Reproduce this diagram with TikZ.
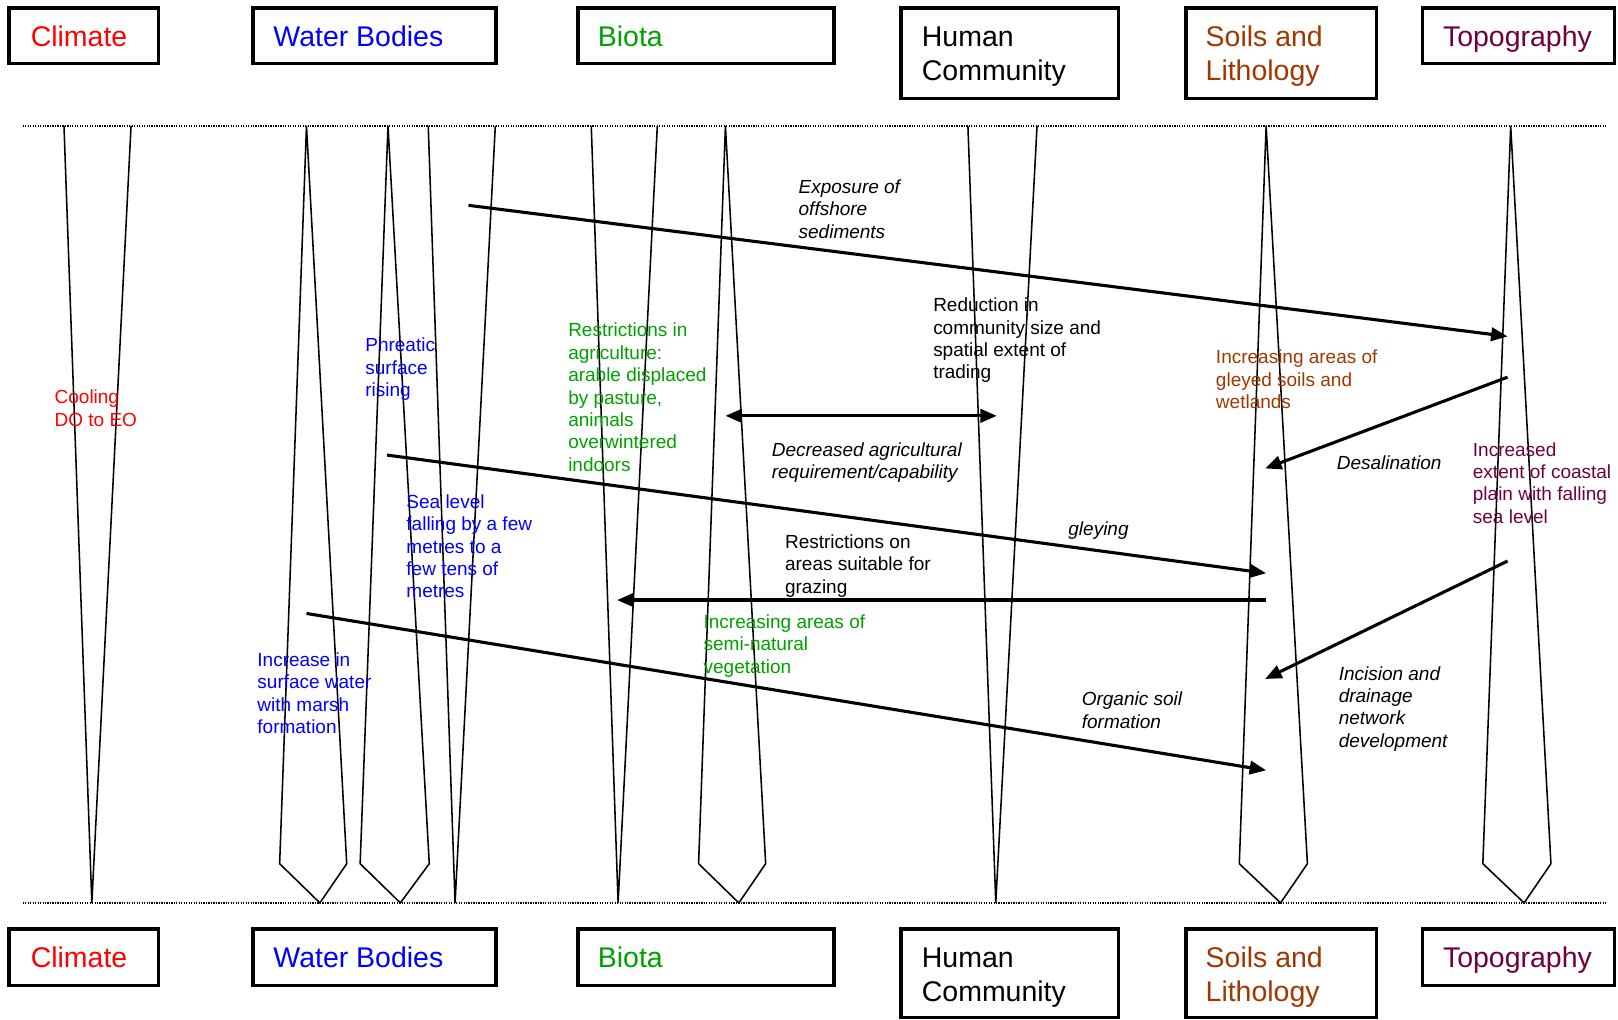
\documentclass[tikz,border=0pt]{standalone}
\usepackage{fontspec}
\setmainfont{Liberation Sans}
\usetikzlibrary{arrows.meta}
\definecolor{climc}{RGB}{255,0,0}
\definecolor{waterc}{RGB}{0,0,255}
\definecolor{biotac}{RGB}{0,160,0}
\definecolor{soilc}{RGB}{160,55,0}
\definecolor{topoc}{RGB}{110,0,60}
\begin{document}
\begin{tikzpicture}[x=0.5pt,y=-0.5pt,
  catbox/.style={draw, line width=1.8pt, anchor=north west, inner sep=0pt, outer sep=0pt},
  catlabel/.style={anchor=base west, inner sep=0pt, align=left, font=\fontsize{13.8}{16.5}\selectfont},
  note/.style={anchor=base west, inner sep=0pt, align=left, font=\fontsize{9.2}{10.85}\selectfont},
  inote/.style={anchor=base west, inner sep=0pt, align=left, font=\fontsize{9.2}{10.85}\selectfont\itshape},
  column/.style={line width=0.75pt, line join=miter},
  level/.style={line width=1.2pt, dash pattern=on 0.6pt off 0.6pt},
  link/.style={line width=1.5pt, -{Triangle[length=8pt,width=6.5pt]}},
  biglink/.style={line width=1.5pt, {Triangle[length=8pt,width=6.5pt]}-{Triangle[length=8pt,width=6.5pt]}},
]
\useasboundingbox (0,0) rectangle (1568,988);

% top boxes
\node[catbox, minimum width=72.5pt, minimum height=26.75pt] (climT) at (8.5,8) {};
\node[catbox, minimum width=118pt, minimum height=26.75pt] (waterT) at (245,8) {};
\node[catbox, minimum width=124.25pt, minimum height=26.75pt] (biotaT) at (560,8) {};
\node[catbox, minimum width=105.5pt, minimum height=44pt] (humanT) at (873,7.5) {};
\node[catbox, minimum width=92.5pt, minimum height=44pt] (soilT) at (1149,7.5) {};
\node[catbox, minimum width=93pt, minimum height=26.75pt] (topoT) at (1378.5,8) {};

% (anchor base = baseline of the last line)
\node[catlabel, text=climc] (climTl) at (29.4,45.2) {Climate};
\node[catlabel, text=waterc] (waterTl) at (264.6,45.2) {Water Bodies};
\node[catlabel, text=biotac] (biotaTl) at (579,45.2) {Biota};
\node[catlabel] (humanTl) at (893,78.2) {Human\\Community};
\node[catlabel, text=soilc] (soilTl) at (1168,78.2) {Soils and\\Lithology};
\node[catlabel, text=topoc] (topoTl) at (1398,45.2) {Topography};

% bottom boxes
\node[catbox, minimum width=72.5pt, minimum height=27.5pt] (climB) at (8.5,900) {};
\node[catbox, minimum width=118pt, minimum height=27.5pt] (waterB) at (245,900) {};
\node[catbox, minimum width=124.25pt, minimum height=27.5pt] (biotaB) at (560,900) {};
\node[catbox, minimum width=105.5pt, minimum height=43pt] (humanB) at (873,900) {};
\node[catbox, minimum width=92.5pt, minimum height=43pt] (soilB) at (1149,900) {};
\node[catbox, minimum width=93pt, minimum height=27.5pt] (topoB) at (1378.5,900) {};

\node[catlabel, text=climc] (climBl) at (29.4,937.2) {Climate};
\node[catlabel, text=waterc] (waterBl) at (264.6,937.2) {Water Bodies};
\node[catlabel, text=biotac] (biotaBl) at (579,937.2) {Biota};
\node[catlabel] (humanBl) at (893,970.2) {Human\\Community};
\node[catlabel, text=soilc] (soilBl) at (1168,970.2) {Soils and\\Lithology};
\node[catlabel, text=topoc] (topoBl) at (1398,937.2) {Topography};

% dotted level lines
\draw[level] (22,122) -- (1557,122);
\draw[level] (22,875) -- (1557,875);

% columns
\draw[column] (62,122) -- (89,875) -- (127,122);
\draw[column] (297,122) -- (271,837) -- (310,875) -- (336,837) -- cycle;
\draw[column] (376,122) -- (349,837) -- (388,875) -- (416,837) -- cycle;
\draw[column] (415,122) -- (441,875) -- (480,122);
\draw[column] (573,122) -- (599,875) -- (637,122);
\draw[column] (703,122) -- (677,837) -- (716,875) -- (742,837) -- cycle;
\draw[column] (938,122) -- (965,875) -- (1005,122);
\draw[column] (1227,122) -- (1201,837) -- (1241,875) -- (1267,837) -- cycle;
\draw[column] (1464,122) -- (1437,837) -- (1477,875) -- (1503,837) -- cycle;

% arrow end points
\coordinate (expS) at (454,199);
\coordinate (expE) at (1461,326);
\coordinate (decL) at (703,403);
\coordinate (decR) at (966,403);
\coordinate (gleyS) at (375,441);
\coordinate (gleyE) at (1227,555.5);
\coordinate (grazS) at (1227,581.5);
\coordinate (grazE) at (598,581.5);
\coordinate (orgS) at (297,594.5);
\coordinate (orgE) at (1227,746.5);
\coordinate (desS) at (1461,365.5);
\coordinate (desE) at (1226,454);
\coordinate (incS) at (1461,543.7);
\coordinate (incE) at (1226,658);

\draw[link] (expS) -- (expE);
\draw[biglink] (decL) -- (decR);
\draw[link] (gleyS) -- (gleyE);
\draw[link] (grazS) -- (grazE);
\draw[link] (orgS) -- (orgE);
\draw[link] (desS) -- (desE);
\draw[link] (incS) -- (incE);

% notes (positions are the baseline of the last line)
\node[note, text=climc] (cool) at (52.6,413.2) {Cooling\\DO to EO};
\node[note, text=waterc] (phre) at (353.7,384.2) {Phreatic\\surface\\rising};
\node[note, text=waterc] (sea) at (393.5,579.4) {Sea level\\falling by a few\\metres to a\\few tens of\\metres};
\node[note, text=waterc] (surf) at (249.1,711.1) {Increase in\\surface water\\with marsh\\formation};
\node[note, text=biotac] (agri) at (550.3,456.7) {Restrictions in\\agriculture:\\arable displaced\\by pasture,\\animals\\overwintered\\indoors};
\node[inote] (expo) at (773.6,230.7) {Exposure of\\offshore\\sediments};
\node[note] (redu) at (904,367.1) {Reduction in\\community size and\\spatial extent of\\trading};
\node[inote] (decr) at (747.6,463.7) {Decreased agricultural\\requirement/capability};
\node[note] (graz) at (760.4,574.8) {Restrictions on\\areas suitable for\\grazing};
\node[note, text=biotac] (semi) at (681.5,652.3) {Increasing areas of\\semi-natural\\vegetation};
\node[inote] (gley) at (1035,518.5) {gleying};
\node[inote] (orga) at (1048,705.7) {Organic soil\\formation};
\node[note, text=soilc] (wetl) at (1178,396.1) {Increasing areas of\\gleyed soils and\\wetlands};
\node[inote] (desa) at (1295.2,454.8) {Desalination};
\node[note, text=topoc] (coast) at (1427,507.1) {Increased\\extent of coastal\\plain with falling\\sea level};
\node[inote] (inci) at (1297,724.1) {Incision and\\drainage\\network\\development};
\end{tikzpicture}
\end{document}
